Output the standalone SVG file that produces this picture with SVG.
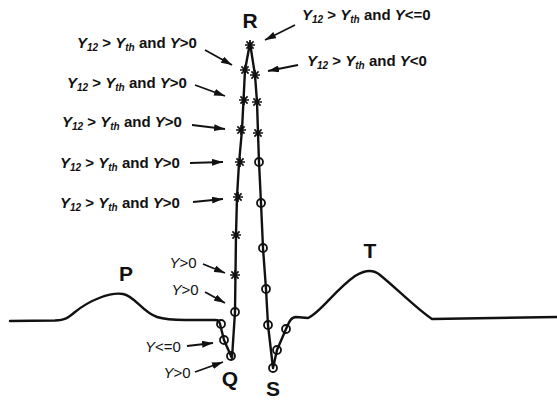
<svg xmlns="http://www.w3.org/2000/svg" width="557" height="400" viewBox="0 0 557 400">
<style>
.ln{fill:none;stroke:#111;stroke-width:2.4;stroke-linejoin:round;stroke-linecap:round}
.ar{fill:none;stroke:#111;stroke-width:1.8}
.c{fill:none;stroke:#111;stroke-width:1.8}
.st{fill:none;stroke:#111;stroke-width:1.7}
.lb{font-family:"Liberation Sans",Arial,sans-serif;font-weight:bold;font-size:15px;fill:#111}
.sm{font-family:"Liberation Sans",Arial,sans-serif;font-size:15px;fill:#111}
.big{font-family:"Liberation Sans",Arial,sans-serif;font-weight:bold;font-size:21px;fill:#111;text-anchor:middle}
.i{font-style:italic}
</style>
<defs>
<marker id="ah" viewBox="0 0 11 7" refX="11" refY="3.5" markerWidth="11" markerHeight="7" markerUnits="userSpaceOnUse" orient="auto">
<path d="M0,0 L11,3.5 L0,7 z" fill="#111"/>
</marker>
<path id="ast" d="M-5,0 H5 M0,-5 V5 M-3.6,-3.6 L3.6,3.6 M-3.6,3.6 L3.6,-3.6"/>
</defs>

<g id="ecg">
<path class="ln" d="M10,321 L55,320.5 C65,320 68,318 75,312 C90,300 110,292 123,294 C135,296 142,312 157,317 C165,319.5 172,320 185,320 L215,320 C219,320 219,321 220,324 L224,340 L231,356 L232,358 L235,312 L236,235 L237,197 L239,163 L242,130 L245,70 L250,43 L255,75 L257,102 L258,133 L259,162 L261,203 L263,248 L266,289 L268,325 L273,368 L277,350 L286,329 C289,322 291,317 296,317 L308,318 C320,313 335,290 355,276 C363,271 372,268 380,275 C395,287 418,310 432,319 L557,317"/>
</g>

<g id="markers">
<use href="#ast" class="st" x="250" y="45"/>
<use href="#ast" class="st" x="245" y="70"/>
<use href="#ast" class="st" x="244" y="100"/>
<use href="#ast" class="st" x="241" y="130"/>
<use href="#ast" class="st" x="240" y="162"/>
<use href="#ast" class="st" x="238" y="197"/>
<use href="#ast" class="st" x="236" y="235"/>
<use href="#ast" class="st" x="235" y="275"/>
<use href="#ast" class="st" x="255" y="75"/>
<use href="#ast" class="st" x="257" y="102"/>
<use href="#ast" class="st" x="258" y="133"/>
<circle class="c" cx="259" cy="162" r="4"/>
<circle class="c" cx="261" cy="203" r="4"/>
<circle class="c" cx="263" cy="248" r="4"/>
<circle class="c" cx="266" cy="289" r="4"/>
<circle class="c" cx="268" cy="325" r="4"/>
<circle class="c" cx="273" cy="368" r="4"/>
<circle class="c" cx="277" cy="350" r="4"/>
<circle class="c" cx="286" cy="329" r="4"/>
<circle class="c" cx="235" cy="312" r="4"/>
<circle class="c" cx="221" cy="324" r="4"/>
<circle class="c" cx="224" cy="340" r="4"/>
<circle class="c" cx="231" cy="356" r="4"/>
</g>

<g id="connectors">
<line class="ar" x1="205" y1="50" x2="232" y2="65" marker-end="url(#ah)"/>
<line class="ar" x1="195" y1="85" x2="225" y2="96" marker-end="url(#ah)"/>
<line class="ar" x1="192" y1="125" x2="225" y2="129" marker-end="url(#ah)"/>
<line class="ar" x1="190" y1="163" x2="223" y2="162" marker-end="url(#ah)"/>
<line class="ar" x1="193" y1="202" x2="223" y2="199" marker-end="url(#ah)"/>
<line class="ar" x1="295" y1="25" x2="265" y2="40" marker-end="url(#ah)"/>
<line class="ar" x1="298" y1="65" x2="268" y2="71" marker-end="url(#ah)"/>
<line class="ar" x1="203" y1="264" x2="225" y2="273" marker-end="url(#ah)"/>
<line class="ar" x1="205" y1="292" x2="225" y2="303" marker-end="url(#ah)"/>
<line class="ar" x1="187" y1="346" x2="213" y2="343" marker-end="url(#ah)"/>
<line class="ar" x1="195" y1="372" x2="223" y2="362" marker-end="url(#ah)"/>
</g>

<g id="labels-left">
<text class="lb" x="77" y="48"><tspan class="i">Y</tspan><tspan class="i" font-size="10" dy="3">12</tspan><tspan dy="-3"> &gt; </tspan><tspan class="i">Y</tspan><tspan class="i" font-size="10" dy="3">th</tspan><tspan dy="-3"> and </tspan><tspan class="i">Y</tspan>&gt;0</text>
<text class="lb" x="67" y="88"><tspan class="i">Y</tspan><tspan class="i" font-size="10" dy="3">12</tspan><tspan dy="-3"> &gt; </tspan><tspan class="i">Y</tspan><tspan class="i" font-size="10" dy="3">th</tspan><tspan dy="-3"> and </tspan><tspan class="i">Y</tspan>&gt;0</text>
<text class="lb" x="62" y="127"><tspan class="i">Y</tspan><tspan class="i" font-size="10" dy="3">12</tspan><tspan dy="-3"> &gt; </tspan><tspan class="i">Y</tspan><tspan class="i" font-size="10" dy="3">th</tspan><tspan dy="-3"> and </tspan><tspan class="i">Y</tspan>&gt;0</text>
<text class="lb" x="60" y="168"><tspan class="i">Y</tspan><tspan class="i" font-size="10" dy="3">12</tspan><tspan dy="-3"> &gt; </tspan><tspan class="i">Y</tspan><tspan class="i" font-size="10" dy="3">th</tspan><tspan dy="-3"> and </tspan><tspan class="i">Y</tspan>&gt;0</text>
<text class="lb" x="60" y="208"><tspan class="i">Y</tspan><tspan class="i" font-size="10" dy="3">12</tspan><tspan dy="-3"> &gt; </tspan><tspan class="i">Y</tspan><tspan class="i" font-size="10" dy="3">th</tspan><tspan dy="-3"> and </tspan><tspan class="i">Y</tspan>&gt;0</text>
</g>

<g id="labels-right">
<text class="lb" x="302" y="20"><tspan class="i">Y</tspan><tspan class="i" font-size="10" dy="3">12</tspan><tspan dy="-3"> &gt; </tspan><tspan class="i">Y</tspan><tspan class="i" font-size="10" dy="3">th</tspan><tspan dy="-3"> and </tspan><tspan class="i">Y</tspan>&lt;=0</text>
<text class="lb" x="307" y="66"><tspan class="i">Y</tspan><tspan class="i" font-size="10" dy="3">12</tspan><tspan dy="-3"> &gt; </tspan><tspan class="i">Y</tspan><tspan class="i" font-size="10" dy="3">th</tspan><tspan dy="-3"> and </tspan><tspan class="i">Y</tspan>&lt;0</text>
</g>

<g id="labels-small">
<text class="sm" x="183" y="268" text-anchor="middle"><tspan class="i">Y</tspan>&gt;0</text>
<text class="sm" x="185" y="295" text-anchor="middle"><tspan class="i">Y</tspan>&gt;0</text>
<text class="sm" x="163" y="352" text-anchor="middle"><tspan class="i">Y</tspan>&lt;=0</text>
<text class="sm" x="177" y="378" text-anchor="middle"><tspan class="i">Y</tspan>&gt;0</text>
</g>

<g id="wave-labels">
<text class="big" x="250" y="28">R</text>
<text class="big" x="126" y="281">P</text>
<text class="big" x="370" y="258">T</text>
<text class="big" x="230" y="386">Q</text>
<text class="big" x="273" y="396" font-size="20">S</text>
</g>
</svg>
